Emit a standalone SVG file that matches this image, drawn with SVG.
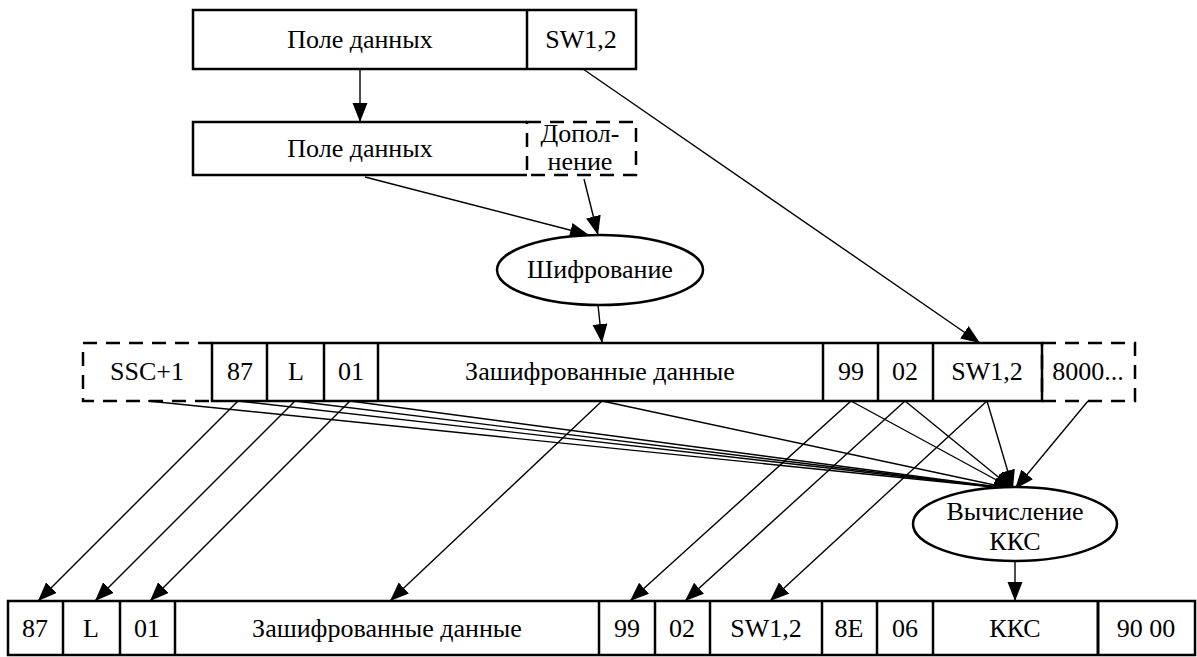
<svg xmlns="http://www.w3.org/2000/svg" width="1197" height="657" viewBox="0 0 1197 657" font-family="'Liberation Serif', 'DejaVu Serif', serif">
<defs>
<marker id="ah" markerUnits="userSpaceOnUse" markerWidth="20" markerHeight="16" refX="19" refY="7.5" orient="auto">
<path d="M0,0 L19,7.5 L0,15 z" fill="#000"/>
</marker>
<style>
.b{fill:#fff;stroke:#000;stroke-width:2.5}
.s{fill:none;stroke:#000;stroke-width:2.5}
.d{fill:none;stroke:#000;stroke-width:2.5;stroke-dasharray:14 9}
.c{fill:none;stroke:#000;stroke-width:1.4;marker-end:url(#ah)}
.t{font-family:'Liberation Serif', 'DejaVu Serif', serif;font-size:26px;text-anchor:middle;fill:#000}
</style>
</defs>
<rect width="1197" height="657" fill="#fff"/>

<g id="connectors">
<line class="c" x1="360" y1="69" x2="360" y2="122"/>
<line class="c" x1="583" y1="69" x2="980" y2="343"/>
<line class="c" x1="365" y1="177" x2="589" y2="235"/>
<line class="c" x1="584" y1="179" x2="598" y2="235"/>
<line class="c" x1="598" y1="305" x2="602" y2="343"/>
<line class="c" x1="148" y1="401" x2="1013" y2="489"/>
<line class="c" x1="238" y1="401" x2="1013" y2="489"/>
<line class="c" x1="295" y1="401" x2="1013" y2="489"/>
<line class="c" x1="350" y1="401" x2="1013" y2="489"/>
<line class="c" x1="602" y1="401" x2="1013" y2="489"/>
<line class="c" x1="851" y1="401" x2="1013" y2="489"/>
<line class="c" x1="905" y1="401" x2="1013" y2="489"/>
<line class="c" x1="987" y1="401" x2="1013" y2="489"/>
<line class="c" x1="1088" y1="401" x2="1015" y2="489"/>
<line class="c" x1="238" y1="401" x2="38" y2="601"/>
<line class="c" x1="295" y1="401" x2="95" y2="601"/>
<line class="c" x1="350" y1="401" x2="150" y2="601"/>
<line class="c" x1="602" y1="401" x2="390" y2="601"/>
<line class="c" x1="851" y1="401" x2="630" y2="601"/>
<line class="c" x1="905" y1="401" x2="685" y2="601"/>
<line class="c" x1="987" y1="401" x2="770" y2="601"/>
<line class="c" x1="1015" y1="561" x2="1015" y2="601"/>
</g>

<g id="top-box">
<rect class="b" x="193" y="10" width="443" height="59"/>
<line class="s" x1="527" y1="10" x2="527" y2="69"/>
<text class="t" x="360" y="48">Поле данных</text>
<text class="t" x="581" y="48">SW1,2</text>
</g>

<g id="padded-box">
<path class="s" d="M527,122 H193 V175 H527"/>
<path class="d" d="M527,122 H636 V175 H527 Z"/>
<text class="t" x="360" y="157">Поле данных</text>
<text class="t" x="580" y="142">Допол-</text>
<text class="t" x="580" y="170">нение</text>
</g>

<g id="encrypt">
<ellipse class="b" cx="600" cy="270" rx="103" ry="35"/>
<text class="t" x="600" y="278">Шифрование</text>
</g>

<g id="middle-row">
<rect class="b" x="212" y="343" width="830" height="58"/>
<path class="d" d="M212,343 H83 V401 H212"/>
<path class="d" d="M1042,343 H1135 V401 H1042 V343"/>
<line class="s" x1="267" y1="343" x2="267" y2="401"/>
<line class="s" x1="324" y1="343" x2="324" y2="401"/>
<line class="s" x1="378" y1="343" x2="378" y2="401"/>
<line class="s" x1="823" y1="343" x2="823" y2="401"/>
<line class="s" x1="878" y1="343" x2="878" y2="401"/>
<line class="s" x1="933" y1="343" x2="933" y2="401"/>
<text class="t" x="147" y="380">SSC+1</text>
<text class="t" x="240" y="380">87</text>
<text class="t" x="296" y="380">L</text>
<text class="t" x="351" y="380">01</text>
<text class="t" x="600" y="380">Зашифрованные данные</text>
<text class="t" x="851" y="380">99</text>
<text class="t" x="905" y="380">02</text>
<text class="t" x="987" y="380">SW1,2</text>
<text class="t" x="1088" y="380">8000...</text>
</g>

<g id="mac">
<ellipse class="b" cx="1015" cy="524" rx="102" ry="37"/>
<text class="t" x="1015" y="520">Вычисление</text>
<text class="t" x="1015" y="550">ККС</text>
</g>

<g id="bottom-row">
<rect class="b" x="8" y="601" width="1187" height="54"/>
<line class="s" x1="63" y1="601" x2="63" y2="655"/>
<line class="s" x1="120" y1="601" x2="120" y2="655"/>
<line class="s" x1="175" y1="601" x2="175" y2="655"/>
<line class="s" x1="599" y1="601" x2="599" y2="655"/>
<line class="s" x1="655" y1="601" x2="655" y2="655"/>
<line class="s" x1="710" y1="601" x2="710" y2="655"/>
<line class="s" x1="822" y1="601" x2="822" y2="655"/>
<line class="s" x1="877" y1="601" x2="877" y2="655"/>
<line class="s" x1="933" y1="601" x2="933" y2="655"/>
<line class="s" x1="1098" y1="601" x2="1098" y2="655" style="stroke-width:3"/>
<text class="t" x="35" y="637">87</text>
<text class="t" x="91" y="637">L</text>
<text class="t" x="147" y="637">01</text>
<text class="t" x="387" y="637">Зашифрованные данные</text>
<text class="t" x="627" y="637">99</text>
<text class="t" x="682" y="637">02</text>
<text class="t" x="766" y="637">SW1,2</text>
<text class="t" x="849" y="637">8E</text>
<text class="t" x="905" y="637">06</text>
<text class="t" x="1015" y="637">ККС</text>
<text class="t" x="1146" y="637">90 00</text>
</g>
</svg>
